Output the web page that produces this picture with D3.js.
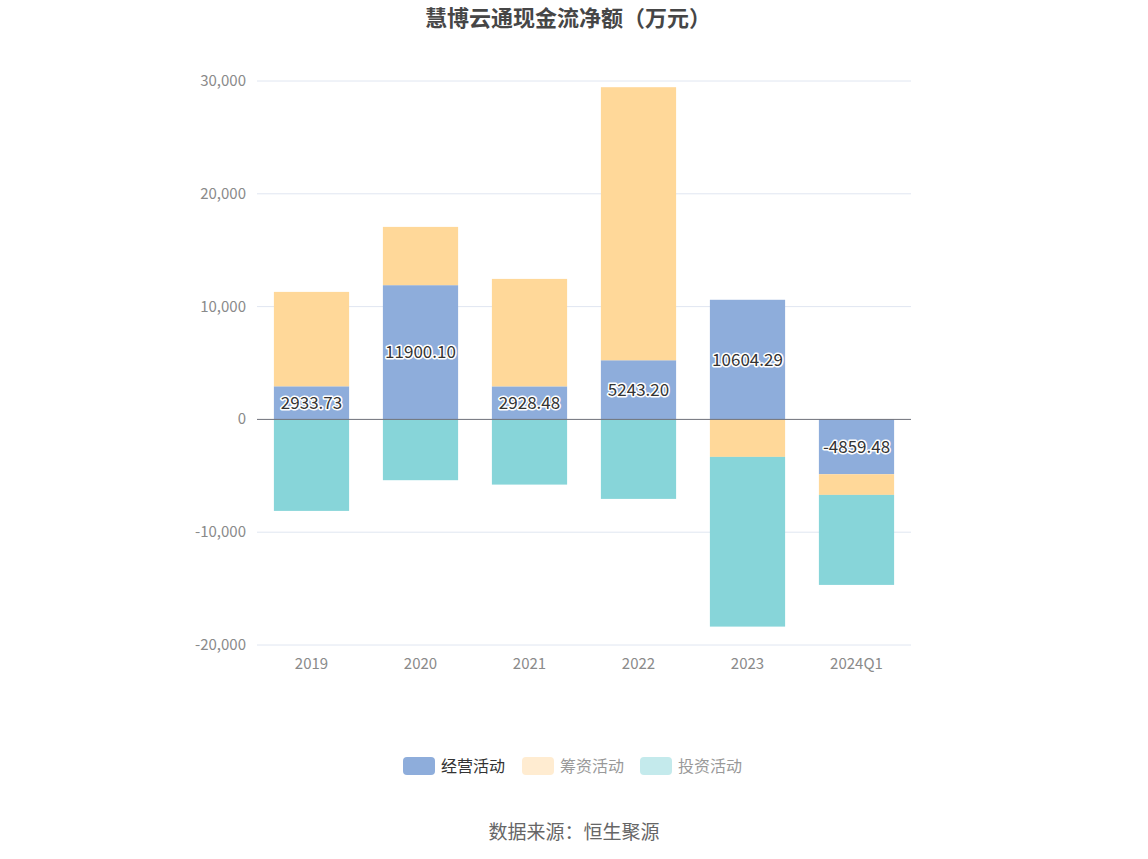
<!DOCTYPE html>
<html>
<head>
<meta charset="utf-8">
<script src="https://d3js.org/d3.v7.min.js"></script>
<style>
  body { margin: 0; background: #fff; font-family: "Noto Sans CJK SC", "Noto Sans", sans-serif; }
  svg { display: block; }
</style>
</head>
<body>
<svg width="1148" height="859"></svg>
<script>
var categories = ["2019", "2020", "2021", "2022", "2023", "2024Q1"];
var seriesNames = ["经营活动", "筹资活动", "投资活动"];
var operating = [2933.73, 11900.10, 2928.48, 5243.20, 10604.29, -4859.48];
var financing = [8370, 5166, 9527, 24207, -3324, -1834];
var investing = [-8112, -5390, -5780, -7048, -15045, -7979];
var yTicks = [-20000, -10000, 0, 10000, 20000, 30000];

var colors = ["#8eaddb", "#ffd899", "#87d5d9"];
var legendColors = ["#8eaddb", "#ffecd1", "#c4eaec"];

var svg = d3.select("svg");
var plotLeft = 257, plotRight = 911, plotTop = 81, plotBottom = 645;

var x = d3.scaleBand().domain(categories).range([plotLeft, plotRight]);
var y = d3.scaleLinear().domain([-20000, 30000]).range([plotBottom, plotTop]);
var barW = x.bandwidth() * 0.69;
var fmt = d3.formatLocale({decimal: ".", thousands: ",", grouping: [3], currency: ["", ""], minus: "-"}).format(",");

// title
svg.append("text")
  .attr("x", 568).attr("y", 26)
  .attr("text-anchor", "middle")
  .attr("font-size", 22).attr("font-weight", "bold")
  .attr("fill", "#464646")
  .text("慧博云通现金流净额（万元）");

// grid
svg.append("g").selectAll("line").data(yTicks.filter(function(d){ return d !== 0; }))
  .join("line")
  .attr("x1", plotLeft).attr("x2", plotRight)
  .attr("y1", function(d){ return y(d); }).attr("y2", function(d){ return y(d); })
  .attr("stroke", "#e0e6f1").attr("stroke-width", 1);

svg.append("g").selectAll("text").data(yTicks)
  .join("text")
  .attr("x", 246).attr("y", function(d){ return y(d) + 5; })
  .attr("text-anchor", "end")
  .attr("font-size", 15).attr("fill", "#8a8a8a")
  .text(function(d){ return fmt(d); });

// stacked bars (positive and negative stacks separately)
var series = [operating, financing, investing];
var posBase = categories.map(function(){ return 0; });
var negBase = categories.map(function(){ return 0; });
var bars = svg.append("g");
series.forEach(function(vals, si) {
  vals.forEach(function(v, i) {
    var y0, y1;
    if (v >= 0) { y0 = posBase[i]; y1 = y0 + v; posBase[i] = y1; }
    else { y0 = negBase[i]; y1 = y0 + v; negBase[i] = y1; }
    bars.append("rect")
      .attr("x", x(categories[i]) + (x.bandwidth() - barW) / 2)
      .attr("width", barW)
      .attr("y", y(Math.max(y0, y1)))
      .attr("height", Math.abs(y(y0) - y(y1)))
      .attr("fill", colors[si]);
  });
});

// zero line
svg.append("line")
  .attr("x1", plotLeft).attr("x2", plotRight)
  .attr("y1", y(0)).attr("y2", y(0))
  .attr("stroke", "#6e7079").attr("stroke-width", 1);

// x labels
svg.append("g").selectAll("text").data(categories)
  .join("text")
  .attr("x", function(d){ return x(d) + x.bandwidth() / 2; })
  .attr("y", 669)
  .attr("text-anchor", "middle")
  .attr("font-size", 15).attr("fill", "#8a8a8a")
  .text(function(d){ return d; });

// operating labels
svg.append("g").selectAll("text").data(operating)
  .join("text")
  .attr("x", function(d, i){ return x(categories[i]) + x.bandwidth() / 2; })
  .attr("y", function(d){ return y(d / 2) + 6; })
  .attr("text-anchor", "middle")
  .attr("font-size", 17).attr("fill", "#333")
  .attr("stroke", "#fff").attr("stroke-width", 3).attr("paint-order", "stroke")
  .attr("stroke-linejoin", "round")
  .text(function(d){ return d.toFixed(2); });

// legend
var legendX = [403, 522, 640];
var lg = svg.append("g");
seriesNames.forEach(function(n, i) {
  lg.append("rect")
    .attr("x", legendX[i]).attr("y", 757)
    .attr("width", 32).attr("height", 18).attr("rx", 4)
    .attr("fill", legendColors[i]);
  lg.append("text")
    .attr("x", legendX[i] + 38).attr("y", 772)
    .attr("font-size", 16)
    .attr("fill", i === 0 ? "#333" : "#999")
    .text(n);
});

// source
svg.append("text")
  .attr("x", 574).attr("y", 839)
  .attr("text-anchor", "middle")
  .attr("font-size", 19).attr("fill", "#666")
  .text("数据来源：恒生聚源");
</script>
</body>
</html>
